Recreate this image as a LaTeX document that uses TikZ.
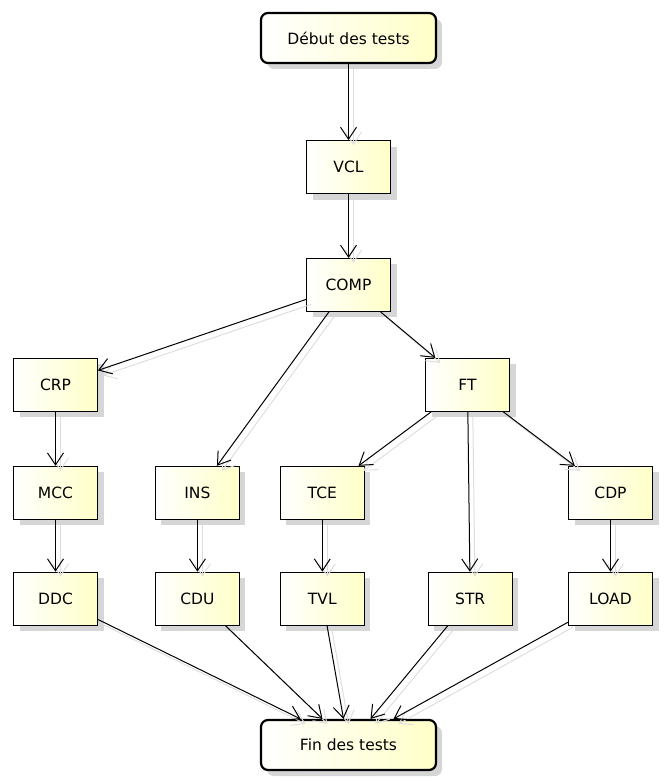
\documentclass[tikz,border=0pt]{standalone}
\usepackage{fontspec}
\setmainfont{DejaVu Sans}
\usetikzlibrary{arrows.meta, positioning, calc, shadows}
\definecolor{boxyellow}{RGB}{255,255,200}

\begin{document}
\begin{tikzpicture}[x=1pt, y=-1pt, font=\fontsize{15.5}{18}\selectfont,
  box/.style={draw, line width=0.9pt, left color=white, right color=boxyellow, minimum width=84pt, minimum height=53pt, inner sep=0pt, drop shadow={shadow xshift=6pt, shadow yshift=-6pt, fill=black!16, opacity=1}},
  term/.style={box, line width=2.2pt, rounded corners=7pt, minimum width=175pt, minimum height=50pt},
  flow/.style={draw=black, line width=1pt, -{Straight Barb[length=12pt, width=16pt]}},
  flowsh/.style={flow, draw=black!13}]
  \useasboundingbox (0,0) rectangle (665,781);
  \node[term] (deb) at (348.5,38) {Début des tests};
  \node[box, below=76pt of deb] (vcl) {VCL};
  \node[box, below=64pt of vcl] (comp) {COMP};
  \node[box, below=46pt of comp, xshift=-293pt] (crp) {CRP};
  \node[box, below=46pt of comp, xshift=119pt] (ft) {FT};
  \node[box, below=54pt of crp] (mcc) {MCC};
  \node[box, right=57pt of mcc] (ins) {INS};
  \node[box, right=40pt of ins] (tce) {TCE};
  \node[box, below=54pt of ft, xshift=143pt] (cdp) {CDP};
  \node[box, below=52pt of mcc] (ddc) {DDC};
  \node[box, below=52pt of ins] (cdu) {CDU};
  \node[box, below=52pt of tce] (tvl) {TVL};
  \node[box, right=63pt of tvl] (str) {STR};
  \node[box, below=52pt of cdp] (load) {LOAD};
  \node[term] (fin) at ($(deb)+(0,707)$) {Fin des tests};
  \coordinate (fa) at ([xshift=-48pt]fin.north);
  \coordinate (fb) at ([xshift=-26pt]fin.north);
  \coordinate (fc) at ([xshift=-5pt]fin.north);
  \coordinate (fd) at ([xshift=22pt]fin.north);
  \coordinate (fe) at ([xshift=45pt]fin.north);
  \begin{scope}[transform canvas={shift={(5pt,-5pt)}}]
    \foreach \a/\b in {deb/vcl, vcl/comp, comp/crp, comp/ins, comp/ft, crp/mcc, mcc/ddc, ins/cdu, tce/tvl, cdp/load, ft/tce, ft/str, ft/cdp, ddc/fa, cdu/fb, tvl/fc, str/fd, load/fe}
      {\draw[flowsh] (\a) -- (\b);}
  \end{scope}
  \foreach \a/\b in {deb/vcl, vcl/comp, comp/crp, comp/ins, comp/ft, crp/mcc, mcc/ddc, ins/cdu, tce/tvl, cdp/load, ft/tce, ft/str, ft/cdp, ddc/fa, cdu/fb, tvl/fc, str/fd, load/fe}
    {\draw[flow] (\a) -- (\b);}
\end{tikzpicture}
\end{document}
